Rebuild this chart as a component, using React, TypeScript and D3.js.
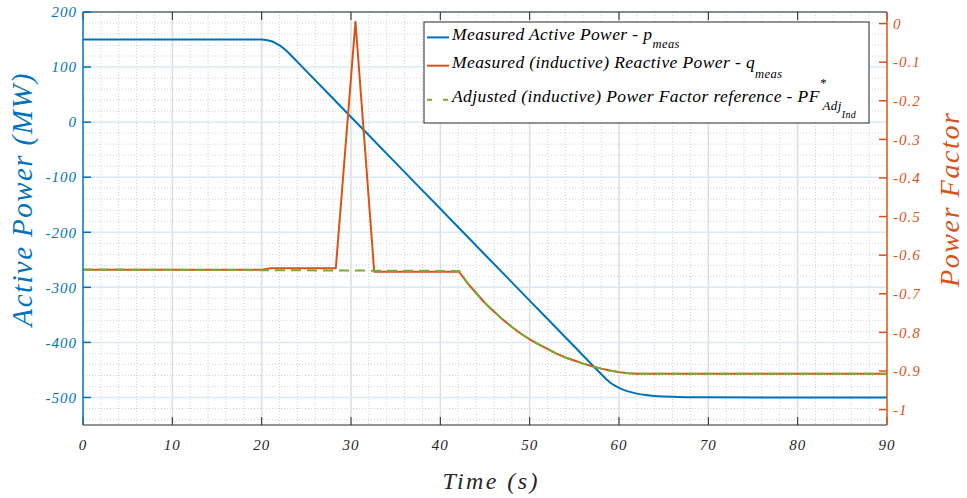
import React from 'react';
import * as d3 from 'd3';

// ---- data ----
const pTime = [0, 20, 20.5, 21, 21.5, 22, 22.5, 23, 23.5, 25, 30, 35, 40, 45, 50, 55, 58, 58.5, 59, 59.5, 60, 61, 62, 63, 64, 65, 66, 68, 70, 80, 90];
const pValues = [150, 150, 149.3, 147.3, 144.0, 139.3, 133.3, 126.0, 117.7, 92.7, 9.3, -74.0, -157.4, -240.7, -324.1, -407.4, -457.5, -465.7, -472.7, -478.2, -482.7, -489.0, -493.0, -495.6, -497.2, -498.2, -498.9, -499.5, -499.8, -500, -500];

const qTime = [0, 20, 21, 28.3, 30.5, 32.6, 42.1, 43, 44, 45, 46, 47, 48, 49, 50, 51, 52, 53, 54, 55, 56, 57, 58, 59, 60, 61, 62, 90];
const qValues = [-0.638, -0.638, -0.634, -0.634, 0.005, -0.643, -0.643, -0.671, -0.698, -0.724, -0.746, -0.767, -0.786, -0.803, -0.818, -0.831, -0.843, -0.855, -0.865, -0.873, -0.881, -0.888, -0.894, -0.899, -0.903, -0.906, -0.907, -0.907];

const pfTime = [0, 42.1, 43, 44, 45, 46, 47, 48, 49, 50, 51, 52, 53, 54, 55, 56, 57, 58, 59, 60, 61, 62, 90];
const pfValues = [-0.637, -0.641, -0.671, -0.698, -0.724, -0.746, -0.767, -0.786, -0.803, -0.818, -0.831, -0.843, -0.855, -0.865, -0.873, -0.881, -0.888, -0.894, -0.899, -0.903, -0.906, -0.907, -0.907];

const xTicks = [0, 10, 20, 30, 40, 50, 60, 70, 80, 90];
const leftTicks = [-500, -400, -300, -200, -100, 0, 100, 200];
const rightTicks = [-1, -0.9, -0.8, -0.7, -0.6, -0.5, -0.4, -0.3, -0.2, -0.1, 0];
const rightTickLabels = ['-1', '-0.9', '-0.8', '-0.7', '-0.6', '-0.5', '-0.4', '-0.3', '-0.2', '-0.1', '0'];

const BLUE = '#0072BD';
const ORANGE = '#D95319';
const GREEN = '#77AC30';
const DARK = '#262626';
const TS: React.CSSProperties = { fontFamily: 'Liberation Serif', fontStyle: 'italic' };

export default function App() {
  const L = 83, R = 887, T = 12, B = 425;
  const x = d3.scaleLinear().domain([0, 90]).range([L, R]);
  const yL = d3.scaleLinear().domain([-550, 200]).range([B, T]);
  const yR = d3.scaleLinear().domain([-1.04, 0.03]).range([B, T]);

  const xMinor = d3.range(0, 91, 2).filter((v) => v % 10 !== 0);
  const yMinor = d3.range(-540, 200, 20).filter((v) => v % 100 !== 0);

  const pLine = d3.line<number>().x((_, i) => x(pTime[i])).y((d) => yL(d)).curve(d3.curveMonotoneX);
  const qLine = d3.line<number>().x((_, i) => x(qTime[i])).y((d) => yR(d));
  const pfLine = d3.line<number>().x((_, i) => x(pfTime[i])).y((d) => yR(d));

  const tick = 8;

  return (
    <div style={{ position: 'fixed', left: 0, top: 0 }}>
      <svg width={967} height={498} style={{ display: 'block', background: '#fff' }}>
        {/* minor grid */}
        {xMinor.map((v) => (
          <line key={'xm' + v} x1={x(v)} x2={x(v)} y1={T} y2={B} stroke="#d0d0d0" strokeWidth={1} strokeDasharray="1,2" />
        ))}
        {yMinor.map((v) => (
          <line key={'ym' + v} x1={L} x2={R} y1={yL(v)} y2={yL(v)} stroke="#c2d9ec" strokeWidth={1} strokeDasharray="1,2" />
        ))}
        {/* major grid */}
        {xTicks.filter((v) => v > 0 && v < 90).map((v) => (
          <line key={'xg' + v} x1={x(v)} x2={x(v)} y1={T} y2={B} stroke="#dedede" strokeWidth={1.5} />
        ))}
        {leftTicks.map((v) => (
          <line key={'yg' + v} x1={L} x2={R} y1={yL(v)} y2={yL(v)} stroke="#d9eaf5" strokeWidth={1.5} />
        ))}

        {/* data */}
        <path d={pLine(pValues) || ''} fill="none" stroke={BLUE} strokeWidth={2} />
        <path d={qLine(qValues) || ''} fill="none" stroke={ORANGE} strokeWidth={2} strokeLinejoin="round" />
        <path d={pfLine(pfValues) || ''} fill="none" stroke={GREEN} strokeWidth={2} strokeDasharray="10,6" />

        {/* top & bottom axes */}
        <line x1={L} x2={R} y1={T} y2={T} stroke={DARK} strokeWidth={1} />
        <line x1={L} x2={R} y1={B} y2={B} stroke={DARK} strokeWidth={1} />
        {xTicks.map((v) => (
          <g key={'xt' + v}>
            <line x1={x(v)} x2={x(v)} y1={B} y2={B - tick} stroke={DARK} strokeWidth={1} />
            <line x1={x(v)} x2={x(v)} y1={T} y2={T + tick} stroke={DARK} strokeWidth={1} />
            <text x={x(v)} y={B + 25} textAnchor="middle" fontSize={15} fill={DARK} letterSpacing={1} style={TS}>
              {v}
            </text>
          </g>
        ))}

        {/* left axis */}
        <line x1={L} x2={L} y1={T} y2={B} stroke={BLUE} strokeWidth={1.5} />
        {leftTicks.map((v) => (
          <g key={'lt' + v}>
            <line x1={L} x2={L + tick} y1={yL(v)} y2={yL(v)} stroke={BLUE} strokeWidth={1.5} />
            <text x={77} y={yL(v)} dy="0.35em" textAnchor="end" fontSize={15} fill={BLUE} letterSpacing={1} style={TS}>
              {v}
            </text>
          </g>
        ))}

        {/* right axis */}
        <line x1={R} x2={R} y1={T} y2={B} stroke={ORANGE} strokeWidth={1.5} />
        {rightTicks.map((v, i) => (
          <g key={'rt' + v}>
            <line x1={R} x2={R - tick} y1={yR(v)} y2={yR(v)} stroke={ORANGE} strokeWidth={1.5} />
            <text x={893} y={yR(v)} dy="0.35em" textAnchor="start" fontSize={15} fill={ORANGE} letterSpacing={1} style={TS}>
              {rightTickLabels[i]}
            </text>
          </g>
        ))}

        {/* axis labels */}
        <text x={490} y={489} textAnchor="middle" fontSize={24} fill={DARK} textLength={95} lengthAdjust="spacing" style={TS}>
          Time (s)
        </text>
        <text transform="translate(32,200) rotate(-90)" textAnchor="middle" fontSize={29} fill={BLUE} textLength={253} lengthAdjust="spacing" style={TS}>
          Active Power (MW)
        </text>
        <text transform="translate(959,200) rotate(-90)" textAnchor="middle" fontSize={28} fill={ORANGE} textLength={174} lengthAdjust="spacing" style={TS}>
          Power Factor
        </text>

        {/* legend */}
        <g>
          <rect x={424} y={22} width={445} height={101} fill="#fff" stroke={DARK} strokeWidth={1} />
          <line x1={427} x2={449} y1={37.4} y2={37.4} stroke={BLUE} strokeWidth={2} />
          <line x1={427} x2={449} y1={65.7} y2={65.7} stroke={ORANGE} strokeWidth={2} />
          <line x1={427} x2={449} y1={99.8} y2={99.8} stroke={GREEN} strokeWidth={2} strokeDasharray="5,11" />
          <text x={452} y={40} fontSize={17.5} fill="#000" letterSpacing={0.4} style={TS}>
            Measured Active Power - p
            <tspan dy={8.3} fontSize={12.5}>meas</tspan>
          </text>
          <text x={452} y={68.3} fontSize={17.5} fill="#000" letterSpacing={0.4} style={TS}>
            Measured (inductive) Reactive Power - q
            <tspan dy={9.4} fontSize={12.5}>meas</tspan>
          </text>
          <text x={452} y={102.4} fontSize={17.5} fill="#000" letterSpacing={0.4} style={TS}>
            Adjusted (inductive) Power Factor reference - PF
            <tspan dy={-15} fontSize={12.5}>*</tspan>
            <tspan dy={23} dx={-4} fontSize={13}>Adj</tspan>
            <tspan dy={8} fontSize={10}>Ind</tspan>
          </text>
        </g>
      </svg>
    </div>
  );
}
